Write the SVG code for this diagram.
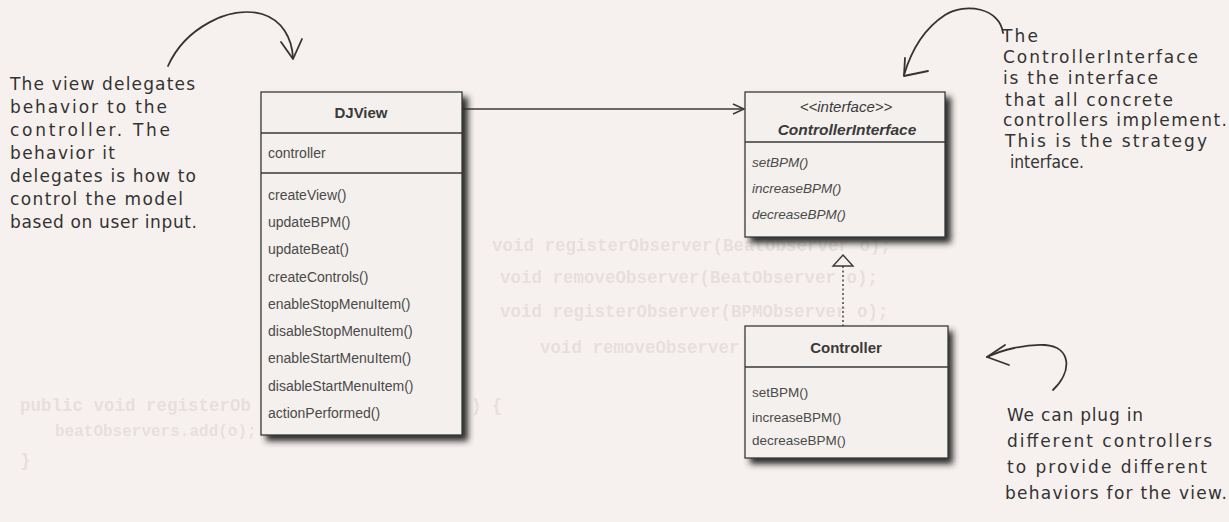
<svg xmlns="http://www.w3.org/2000/svg" width="1229" height="522" viewBox="0 0 1229 522">
<defs>
<style>
.bg{fill:#f6f0ee}
.box{fill:#f4f0ed;stroke:#3a3a3a;stroke-width:1.3}
.sep{stroke:#3a3a3a;stroke-width:1.3}
.shadow{fill:#2a2a2a;filter:url(#blur)}
.t{font-family:"Liberation Sans",Arial,sans-serif;font-size:14px;fill:#4a4a4a}
.tr{font-family:"Liberation Sans",Arial,sans-serif;font-size:13.5px;fill:#4a4a4a}
.ti{font-family:"Liberation Sans",Arial,sans-serif;font-size:13.5px;fill:#4a4a4a;font-style:italic}
.h{font-family:"Liberation Sans",Arial,sans-serif;font-size:15px;font-weight:bold;fill:#3a3a3a;text-anchor:middle}
.hi{font-family:"Liberation Sans",Arial,sans-serif;font-size:15.5px;font-weight:bold;font-style:italic;fill:#3a3a3a;text-anchor:middle}
.st{font-family:"Liberation Sans",Arial,sans-serif;font-size:15px;font-style:italic;fill:#3a3a3a;text-anchor:middle}
.hw{font-family:"DejaVu Sans","Liberation Sans",sans-serif;font-size:17px;fill:#333}
.code{font-family:"Liberation Mono","Courier New",monospace;font-size:17.5px;font-weight:bold;fill:#e6dfdd}
.pen{fill:none;stroke:#333;stroke-width:1.8;stroke-linecap:round;stroke-linejoin:round}
.conn{fill:none;stroke:#3a3a3a;stroke-width:1.4}
</style>
<filter id="blur" x="-20%" y="-20%" width="140%" height="140%"><feGaussianBlur stdDeviation="3"/></filter>
<filter id="soft" x="-5%" y="-20%" width="110%" height="140%"><feGaussianBlur stdDeviation="0.7"/></filter>
<marker id="open" markerWidth="14" markerHeight="12" refX="12" refY="6" orient="auto" markerUnits="userSpaceOnUse">
<path d="M1,1 L12,6 L1,11" fill="none" stroke="#3a3a3a" stroke-width="1.5"/>
</marker>
</defs>
<rect class="bg" x="0" y="0" width="1229" height="522"/>
<g id="faint-code" filter="url(#soft)">
<text class="code" x="492" y="251">void registerObserver(BeatObserver o);</text>
<text class="code" x="500" y="283">void removeObserver(BeatObserver o);</text>
<text class="code" x="500" y="317">void registerObserver(BPMObserver o);</text>
<text class="code" x="540" y="353">void removeObserver</text>
<text class="code" x="20" y="411">public void registerOb</text>
<text class="code" x="471" y="411">) {</text>
<text class="code" x="55" y="436" style="font-size:16px">beatObservers.add(o);</text>
<text class="code" x="20" y="466">}</text>
</g>
<g id="connectors">
<line class="conn" x1="462" y1="109" x2="744" y2="109" marker-end="url(#open)"/>
<line class="conn" x1="843" y1="266" x2="843" y2="326" stroke-dasharray="2,2.5"/>
<path d="M843,255 L853,266 L833,266 Z" fill="#f4f0ed" stroke="#3a3a3a" stroke-width="1.4"/>
</g>
<g id="DJView">
<rect class="shadow" x="266" y="97" width="202" height="344"/>
<rect class="box" x="261" y="92" width="201" height="343"/>
<line class="sep" x1="261" y1="133" x2="462" y2="133"/>
<line class="sep" x1="261" y1="173" x2="462" y2="173"/>
<text class="h" x="361" y="118">DJView</text>
<text class="t" x="268" y="158">controller</text>
<text class="t" x="268" y="200">createView()</text>
<text class="t" x="268" y="227">updateBPM()</text>
<text class="t" x="268" y="254">updateBeat()</text>
<text class="t" x="268" y="282">createControls()</text>
<text class="t" x="268" y="309">enableStopMenuItem()</text>
<text class="t" x="268" y="336">disableStopMenuItem()</text>
<text class="t" x="268" y="363">enableStartMenuItem()</text>
<text class="t" x="268" y="391">disableStartMenuItem()</text>
<text class="t" x="268" y="418">actionPerformed()</text>
</g>
<g id="ControllerInterface">
<rect class="shadow" x="750" y="97" width="201" height="146"/>
<rect class="box" x="745" y="92" width="200" height="145"/>
<line class="sep" x1="745" y1="142" x2="945" y2="142"/>
<text class="st" x="846" y="112">&lt;&lt;interface&gt;&gt;</text>
<text class="hi" x="847" y="135">ControllerInterface</text>
<text class="ti" x="752" y="167">setBPM()</text>
<text class="ti" x="752" y="193">increaseBPM()</text>
<text class="ti" x="752" y="219">decreaseBPM()</text>
</g>
<g id="Controller">
<rect class="shadow" x="750" y="331" width="203" height="133"/>
<rect class="box" x="745" y="326" width="203" height="132"/>
<line class="sep" x1="745" y1="367" x2="948" y2="367"/>
<text class="h" x="846" y="353">Controller</text>
<text class="tr" x="752" y="397">setBPM()</text>
<text class="tr" x="752" y="422">increaseBPM()</text>
<text class="tr" x="752" y="445">decreaseBPM()</text>
</g>
<g id="note-view">
<text class="hw" x="10" y="90" textLength="185" lengthAdjust="spacing">The view delegates</text>
<text class="hw" x="10" y="113" textLength="157" lengthAdjust="spacing">behavior to the</text>
<text class="hw" x="10" y="136" textLength="160" lengthAdjust="spacing">controller. The</text>
<text class="hw" x="10" y="159" textLength="105" lengthAdjust="spacing">behavior it</text>
<text class="hw" x="10" y="182" textLength="186" lengthAdjust="spacing">delegates is how to</text>
<text class="hw" x="10" y="205" textLength="173" lengthAdjust="spacing">control the model</text>
<text class="hw" x="10" y="228" textLength="187" lengthAdjust="spacing">based on user input.</text>
<path class="pen" d="M168,66 C185,28 230,5 262,14 C282,20 292,38 293,58"/>
<path class="pen" d="M281,42 L293,59 L302,39"/>
</g>
<g id="note-interface">
<text class="hw" x="1002" y="42" textLength="36" lengthAdjust="spacing">The</text>
<text class="hw" x="1003" y="63" textLength="195" lengthAdjust="spacing">ControllerInterface</text>
<text class="hw" x="1003" y="84" textLength="155" lengthAdjust="spacing">is the interface</text>
<text class="hw" x="1005" y="106" textLength="168" lengthAdjust="spacing">that all concrete</text>
<text class="hw" x="1003" y="126" textLength="224" lengthAdjust="spacing">controllers implement.</text>
<text class="hw" x="1005" y="147" textLength="202" lengthAdjust="spacing">This is the strategy</text>
<text class="hw" x="1010" y="168" textLength="74" lengthAdjust="spacingAndGlyphs">interface.</text>
<path class="pen" d="M1003,33 C1000,8 965,2 945,15 C925,28 912,48 904,75"/>
<path class="pen" d="M905,58 L904,76 L928,71"/>
</g>
<g id="note-plug">
<text class="hw" x="1007" y="421" textLength="136" lengthAdjust="spacing">We can plug in</text>
<text class="hw" x="1007" y="447" textLength="205" lengthAdjust="spacing">different controllers</text>
<text class="hw" x="1007" y="473" textLength="200" lengthAdjust="spacing">to provide different</text>
<text class="hw" x="1005" y="499" textLength="222" lengthAdjust="spacing">behaviors for the view.</text>
<path class="pen" d="M1053,390 C1072,372 1072,347 1045,345 C1025,344 1002,350 987,357"/>
<path class="pen" d="M1005,345 L987,357 L1009,365"/>
</g>
</svg>
